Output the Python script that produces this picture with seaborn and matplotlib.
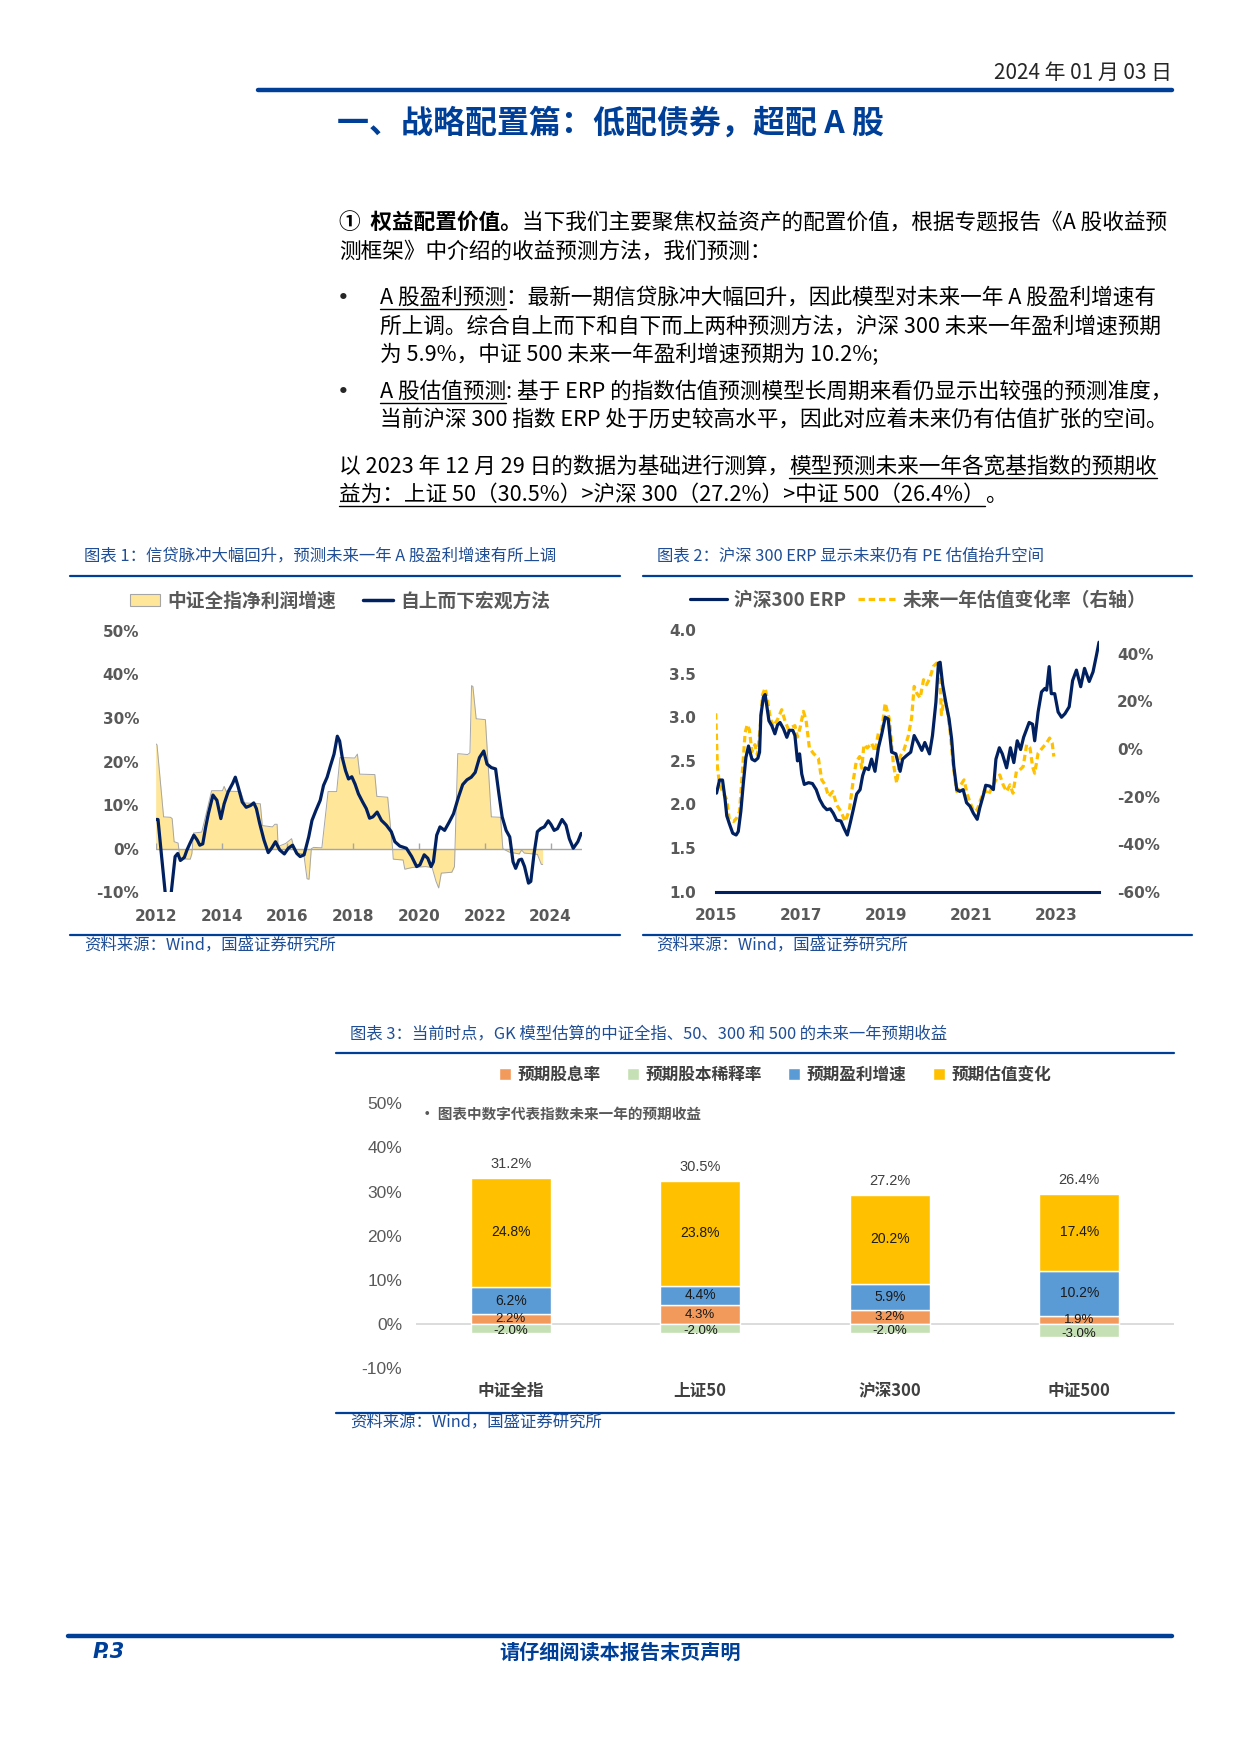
import matplotlib
matplotlib.use('Agg')
import matplotlib.pyplot as plt
import seaborn as sns
import numpy as np
from matplotlib.lines import Line2D
from matplotlib.patches import Patch
from matplotlib.ticker import FuncFormatter

# ---- chart 1: 信贷脉冲 / 盈利增速 ----
profit_years = [2012.00, 2012.04, 2012.24, 2012.45, 2012.50, 2012.56, 2012.68, 2012.74, 2013.05, 2013.10,
                2013.15, 2013.40, 2013.70, 2014.03, 2014.08, 2014.14, 2014.58, 2014.70, 2015.18, 2015.24,
                2015.55, 2015.62, 2015.69, 2015.72, 2015.95, 2016.13, 2016.20, 2016.25, 2016.50, 2016.60,
                2016.66, 2016.73, 2016.80, 2017.05, 2017.24, 2017.50, 2017.60, 2018.05, 2018.13, 2018.20,
                2018.66, 2018.72, 2019.05, 2019.20, 2019.22, 2019.52, 2019.57, 2019.80, 2020.20, 2020.40,
                2020.52, 2020.60, 2020.68, 2021.00, 2021.08, 2021.18, 2021.48, 2021.55, 2021.60, 2021.64,
                2021.74, 2022.02, 2022.20, 2022.48, 2022.55, 2022.75, 2023.05, 2023.12, 2023.20, 2023.60,
                2023.72, 2023.76]
profit_vals = [24.1, 23.8, 7.3, 7.2, 6.9, 1.6, 1.3, -2.3, -2.4, -1.1,
               3.6, 3.8, 13.3, 13.3, 14.3, 13.2, 13.1, 10.5, 10.3, 5.3,
               5.0, 5.6, 5.6, 0.5, 1.2, 2.3, 0.3, -1.0, -1.2, -6.9,
               -7.0, 0.0, 0.3, 0.2, 13.1, 13.1, 20.9, 20.8, 21.7, 17.1,
               17.0, 12.0, 11.8, 0.0, -2.4, -2.6, -4.7, -4.3, -4.1, -4.3,
               -7.5, -9.0, -5.6, -5.4, -4.1, 21.8, 21.6, 22.0, 37.4, 37.2,
               29.8, 29.6, 7.3, 7.2, 0.0, -0.8, -1.2, -0.3, -1.0, -1.3,
               -3.6, -3.6]

macro_years = [2012.00, 2012.07, 2012.16, 2012.29, 2012.38, 2012.47, 2012.59, 2012.67, 2012.75, 2012.87,
               2012.95, 2013.04, 2013.16, 2013.26, 2013.34, 2013.43, 2013.52, 2013.60, 2013.74, 2013.86,
               2013.98, 2014.08, 2014.20, 2014.34, 2014.42, 2014.51, 2014.63, 2014.75, 2014.88, 2014.98,
               2015.06, 2015.16, 2015.29, 2015.42, 2015.52, 2015.64, 2015.77, 2015.91, 2016.03, 2016.16,
               2016.29, 2016.39, 2016.51, 2016.65, 2016.75, 2016.87, 2017.00, 2017.10, 2017.21, 2017.31,
               2017.42, 2017.52, 2017.59, 2017.67, 2017.77, 2017.86, 2017.96, 2018.06, 2018.16, 2018.29,
               2018.40, 2018.50, 2018.60, 2018.73, 2018.86, 2019.01, 2019.16, 2019.27, 2019.42, 2019.62,
               2019.78, 2019.93, 2020.03, 2020.16, 2020.27, 2020.37, 2020.44, 2020.54, 2020.64, 2020.78,
               2020.92, 2021.05, 2021.20, 2021.33, 2021.46, 2021.59, 2021.71, 2021.84, 2021.97, 2022.07,
               2022.20, 2022.33, 2022.43, 2022.53, 2022.65, 2022.76, 2022.86, 2022.94, 2023.04, 2023.12,
               2023.21, 2023.33, 2023.40, 2023.50, 2023.60, 2023.70, 2023.81, 2023.93, 2024.01, 2024.11,
               2024.21, 2024.35, 2024.47, 2024.57, 2024.69, 2024.83, 2024.93]
macro_vals = [6.7, 6.7, -0.3, -10.2, -14.0, -10.2, -1.8, -1.1, -2.7, -2.0,
              -0.3, 1.2, 3.1, 2.0, 0.8, 1.1, 5.0, 8.0, 12.3, 11.1,
              6.9, 10.3, 13.0, 15.0, 16.4, 14.1, 10.7, 9.5, 9.9, 10.5,
              9.2, 5.8, 2.0, -0.9, 0.1, 1.6, -0.3, -1.2, 0.1, 0.8,
              -1.1, -1.8, -1.4, 2.7, 6.5, 8.8, 11.1, 14.5, 16.4, 19.0,
              21.7, 25.8, 24.7, 20.9, 17.9, 16.0, 16.5, 14.8, 12.6, 10.7,
              9.2, 7.0, 7.3, 8.4, 6.5, 5.4, 3.9, 1.6, 0.6, 0.1,
              -1.8, -4.1, -3.7, -1.4, -2.2, -4.1, -3.0, 3.1, 5.0, 4.2,
              6.1, 8.0, 11.8, 14.7, 15.8, 16.4, 17.5, 20.9, 22.4, 19.4,
              18.6, 18.3, 12.6, 7.3, 4.2, 2.7, -3.0, -4.5, -2.6, -2.4,
              -4.1, -7.9, -7.5, -1.1, 3.9, 4.6, 5.0, 6.4, 5.6, 4.2,
              4.6, 6.7, 5.4, 2.3, 0.1, 1.6, 3.5]

# ---- chart 2: 沪深300 ERP ----
erp_years = [2015.02, 2015.09, 2015.16, 2015.22, 2015.26, 2015.32, 2015.40, 2015.48, 2015.53, 2015.59,
             2015.65, 2015.71, 2015.77, 2015.85, 2015.92, 2015.99, 2016.03, 2016.06, 2016.12, 2016.16,
             2016.20, 2016.25, 2016.32, 2016.39, 2016.45, 2016.51, 2016.59, 2016.67, 2016.73, 2016.81,
             2016.86, 2016.92, 2016.97, 2017.02, 2017.08, 2017.18, 2017.27, 2017.36, 2017.44, 2017.53,
             2017.61, 2017.69, 2017.76, 2017.84, 2017.94, 2018.01, 2018.09, 2018.16, 2018.23, 2018.31,
             2018.39, 2018.45, 2018.51, 2018.59, 2018.66, 2018.74, 2018.82, 2018.90, 2018.98, 2019.05,
             2019.13, 2019.23, 2019.33, 2019.39, 2019.48, 2019.58, 2019.66, 2019.76, 2019.84, 2019.91,
             2020.02, 2020.09, 2020.17, 2020.23, 2020.27, 2020.33, 2020.41, 2020.48, 2020.54, 2020.59,
             2020.66, 2020.73, 2020.81, 2020.89, 2020.97, 2021.05, 2021.14, 2021.20, 2021.28, 2021.34,
             2021.44, 2021.52, 2021.58, 2021.66, 2021.73, 2021.83, 2021.92, 2022.00, 2022.08, 2022.16,
             2022.23, 2022.36, 2022.44, 2022.49, 2022.57, 2022.65, 2022.73, 2022.77, 2022.83, 2022.88,
             2022.96, 2023.04, 2023.12, 2023.20, 2023.30, 2023.38, 2023.47, 2023.57, 2023.66, 2023.77,
             2023.86, 2023.94, 2024.00]
erp_vals = [2.13, 2.28, 2.28, 2.06, 1.87, 1.78, 1.67, 1.65, 1.69, 1.92,
            2.25, 2.54, 2.67, 2.52, 2.50, 2.53, 2.60, 3.02, 3.23, 3.26,
            3.13, 2.96, 2.90, 2.81, 2.91, 2.94, 2.87, 2.77, 2.85, 2.85,
            2.79, 2.50, 2.58, 2.35, 2.23, 2.25, 2.24, 2.17, 2.06, 1.98,
            1.94, 1.95, 1.90, 1.82, 1.81, 1.73, 1.65, 1.79, 1.94, 2.12,
            2.17, 2.33, 2.42, 2.40, 2.52, 2.38, 2.65, 2.81, 3.00, 2.98,
            2.60, 2.58, 2.38, 2.52, 2.56, 2.60, 2.79, 2.70, 2.62, 2.71,
            2.58, 2.79, 3.17, 3.62, 3.63, 3.37, 3.15, 2.98, 2.75, 2.44,
            2.17, 2.15, 2.17, 2.02, 1.98, 1.90, 1.83, 1.96, 2.10, 2.22,
            2.21, 2.17, 2.52, 2.65, 2.58, 2.42, 2.65, 2.48, 2.73, 2.63,
            2.77, 2.94, 2.92, 2.73, 3.06, 3.29, 3.33, 3.31, 3.58, 3.27,
            3.27, 3.06, 3.00, 3.04, 3.12, 3.42, 3.54, 3.35, 3.56, 3.41,
            3.52, 3.71, 3.86]

pe_years = [2015.00, 2015.04, 2015.09, 2015.18, 2015.26, 2015.32, 2015.42, 2015.49, 2015.56, 2015.63,
            2015.69, 2015.74, 2015.79, 2015.85, 2015.92, 2015.98, 2016.04, 2016.10, 2016.16, 2016.21,
            2016.28, 2016.35, 2016.45, 2016.55, 2016.63, 2016.71, 2016.79, 2016.86, 2016.92, 2016.98,
            2017.06, 2017.12, 2017.20, 2017.29, 2017.41, 2017.49, 2017.57, 2017.65, 2017.75, 2017.84,
            2017.94, 2018.04, 2018.14, 2018.22, 2018.30, 2018.38, 2018.43, 2018.48, 2018.56, 2018.66,
            2018.74, 2018.82, 2018.90, 2018.98, 2019.08, 2019.17, 2019.25, 2019.33, 2019.42, 2019.52,
            2019.60, 2019.66, 2019.72, 2019.80, 2019.88, 2019.95, 2020.03, 2020.11, 2020.19, 2020.25,
            2020.30, 2020.36, 2020.42, 2020.50, 2020.58, 2020.66, 2020.73, 2020.83, 2020.91, 2020.98,
            2021.06, 2021.14, 2021.22, 2021.32, 2021.40, 2021.50, 2021.58, 2021.67, 2021.75, 2021.83,
            2021.91, 2021.98, 2022.06, 2022.14, 2022.22, 2022.30, 2022.38, 2022.44, 2022.49, 2022.57,
            2022.67, 2022.77, 2022.84, 2022.90, 2022.94]
pe_vals = [15.0, -7.4, -15.1, -18.6, -21.4, -29.8, -30.5, -29.1, -26.3, -8.8,
           6.7, 10.2, 8.1, -1.1, 1.8, -2.5, 8.1, 22.8, 25.6, 21.4,
           13.0, 9.5, 12.3, 16.5, 11.6, 8.1, 9.2, 9.8, 5.0, 8.8,
           15.8, 12.3, 0.4, -1.8, -3.9, -13.0, -15.1, -20.0, -17.9, -23.5,
           -26.3, -30.5, -25.6, -14.4, -5.3, -3.2, -8.1, 1.8, 0.4, 2.5,
           -1.1, 6.7, 8.1, 19.3, 12.3, -6.0, -14.4, -3.2, -0.4, 5.3,
           13.0, 26.3, 23.5, 21.4, 29.1, 27.0, 29.8, 34.7, 36.1, 34.7,
           14.4, 20.7, 18.6, 8.1, -7.4, -17.9, -15.8, -13.0, -19.3, -22.8,
           -26.3, -25.6, -21.4, -17.2, -19.3, -15.8, -13.0, -10.9, -15.1, -17.9,
           -15.1, -18.6, -9.5, -8.8, -7.4, 1.8, 0.4, -7.4, -10.2, -1.8,
           0.4, 2.5, 4.6, 2.5, -3.2]

# ---- chart 3: GK 模型预期收益 ----
categories = ['中证全指', '上证50', '沪深300', '中证500']
dividend = [2.2, 4.3, 3.2, 1.9]
dilution = [-2.0, -2.0, -2.0, -3.0]
earnings = [6.2, 4.4, 5.9, 10.2]
valuation = [24.8, 23.8, 20.2, 17.4]
totals = [31.2, 30.5, 27.2, 26.4]

BLUE = '#003F98'
TITLE_BLUE = '#1F4E96'
NAVY = '#002060'
GRAY = '#595959'

sns.set_style('white')
plt.rcParams['font.family'] = ['Noto Sans CJK SC', 'DejaVu Sans']
plt.rcParams['axes.unicode_minus'] = False

W, H = 1240, 1754
fig = plt.figure(figsize=(12.4, 17.54), dpi=100)


def fy(y):
    return 1 - y / H


def rect(x0, y0, x1, y1):
    return [x0 / W, 1 - y1 / H, (x1 - x0) / W, (y1 - y0) / H]


def rule(x0, x1, y, lw):
    fig.add_artist(Line2D([x0 / W, x1 / W], [fy(y), fy(y)], color=BLUE, lw=lw))


pct = FuncFormatter(lambda v, _: f'{v:.0f}%')

# header / footer
fig.text(1172 / W, fy(73), '2024 年 01 月 03 日', ha='right', va='center', fontsize=15)
rule(258, 1172, 90, 3.2)
fig.text(337 / W, fy(124), '一、战略配置篇：低配债券，超配 A 股', ha='left', va='center',
         fontsize=23, fontweight='bold', color=BLUE)
rule(68, 1172, 1636, 3.2)
fig.text(93 / W, fy(1652), 'P.3', ha='left', va='center', fontsize=15, fontweight='bold',
         fontstyle='italic', color=BLUE, family=['DejaVu Sans'])
fig.text(620 / W, fy(1652), '请仔细阅读本报告末页声明', ha='center', va='center', fontsize=14.5,
         fontweight='bold', color=BLUE)

# body text
renderer = fig.canvas.get_renderer()
BODY = 15.6
body = [
    (339, 223, [('①  权益配置价值。', True, False),
                ('当下我们主要聚焦权益资产的配置价值，根据专题报告《A 股收益预', False, False)]),
    (339, 252, [('测框架》中介绍的收益预测方法，我们预测：', False, False)]),
    (380, 298, [('A 股盈利预测', False, True),
                ('：最新一期信贷脉冲大幅回升，因此模型对未来一年 A 股盈利增速有', False, False)]),
    (380, 327, [('所上调。综合自上而下和自下而上两种预测方法，沪深 300 未来一年盈利增速预期', False, False)]),
    (380, 355, [('为 5.9%，中证 500 未来一年盈利增速预期为 10.2%;', False, False)]),
    (380, 392, [('A 股估值预测', False, True),
                (': 基于 ERP 的指数估值预测模型长周期来看仍显示出较强的预测准度，', False, False)]),
    (380, 420, [('当前沪深 300 指数 ERP 处于历史较高水平，因此对应着未来仍有估值扩张的空间。', False, False)]),
    (339, 467, [('以 2023 年 12 月 29 日的数据为基础进行测算，', False, False),
                ('模型预测未来一年各宽基指数的预期收', False, True)]),
    (339, 495, [('益为：上证 50（30.5%）>沪深 300（27.2%）>中证 500（26.4%）', False, True),
                ('。', False, False)]),
]
for x, y, runs in body:
    for txt, bold, ul in runs:
        t = fig.text(x / W, fy(y), txt, ha='left', va='center', fontsize=BODY,
                     fontweight='bold' if bold else 'normal', color='black')
        w = t.get_window_extent(renderer=renderer).width
        if ul:
            fig.add_artist(Line2D([x / W, (x + w) / W], [fy(y + 11), fy(y + 11)], color='black', lw=1.0))
        x += w
for y in (298, 392):
    fig.text(337 / W, fy(y), '•', ha='left', va='center', fontsize=BODY, family=['DejaVu Sans'])

# chart titles, rules and sources
TSZ = 11.8
fig.text(84 / W, fy(556), '图表 1：信贷脉冲大幅回升，预测未来一年 A 股盈利增速有所上调', va='center',
         fontsize=TSZ, color=TITLE_BLUE, fontstyle='italic')
fig.text(657 / W, fy(556), '图表 2：沪深 300 ERP 显示未来仍有 PE 估值抬升空间', va='center',
         fontsize=TSZ, color=TITLE_BLUE, fontstyle='italic')
fig.text(350 / W, fy(1034), '图表 3：当前时点，GK 模型估算的中证全指、50、300 和 500 的未来一年预期收益',
         va='center', fontsize=TSZ, color=TITLE_BLUE, fontstyle='italic')
rule(70, 620, 576, 1.6)
rule(70, 620, 935, 1.6)
rule(643, 1192, 576, 1.6)
rule(643, 1192, 935, 1.6)
rule(336, 1174, 1053, 1.6)
rule(336, 1174, 1413, 1.6)
for sx, sy in ((84, 945), (656, 945), (350, 1422)):
    fig.text(sx / W, fy(sy), '资料来源：Wind，国盛证券研究所', va='center', fontsize=TSZ,
             color=TITLE_BLUE, fontstyle='italic')

# ---- chart 1 ----
ax1 = fig.add_axes(rect(155.7, 630.7, 581.8, 892.3))
ax1.fill_between(profit_years, profit_vals, 0, color='#FFE699', lw=0, zorder=1)
ax1.plot(profit_years, profit_vals, color='#A6A6A6', lw=0.7, zorder=2)
ax1.axhline(0, color='#A6A6A6', lw=1.0, zorder=2)
sns.lineplot(x=macro_years, y=macro_vals, color=NAVY, lw=2.3, ax=ax1, sort=False,
             estimator=None, legend=False, zorder=3)
ax1.set_xlim(2012, 2024.95)
ax1.set_ylim(-10, 50)
ax1.set_xticks(range(2012, 2025, 2))
ax1.set_yticks(range(-10, 51, 10))
ax1.vlines(ax1.get_xticks(), 0, 1.3, color='#A6A6A6', lw=1.0, zorder=2)
ax1.yaxis.set_major_formatter(pct)
for s in ax1.spines.values():
    s.set_visible(False)
ax1.tick_params(axis='y', length=0, pad=12, labelcolor=GRAY)
ax1.tick_params(axis='x', length=0, pad=12, labelcolor=GRAY)
for lab in ax1.get_xticklabels() + ax1.get_yticklabels():
    lab.set_fontfamily('DejaVu Sans')
    lab.set_fontweight('bold')
    lab.set_fontsize(11)
ax1.set_xlabel('')
ax1.set_ylabel('')
fig.legend(handles=[Patch(facecolor='#FFE699', edgecolor='#A6A6A6', lw=0.8),
                    Line2D([], [], color=NAVY, lw=2.5)],
           labels=['中证全指净利润增速', '自上而下宏观方法'], loc='center',
           bbox_to_anchor=(340 / W, fy(601)), ncol=2, frameon=False,
           handlelength=1.6, handleheight=0.6, handletextpad=0.4, columnspacing=1.4,
           labelcolor=GRAY, prop={'weight': 'bold', 'size': 13.5})

# ---- chart 2 ----
ax2 = fig.add_axes(rect(715.7, 630.0, 1099.0, 891.7))
sns.lineplot(x=erp_years, y=erp_vals, color=NAVY, lw=2.3, ax=ax2, sort=False,
             estimator=None, legend=False, zorder=3)
ax2.set_xlim(2015, 2024.0)
ax2.set_ylim(1.0, 4.0)
ax2.set_xticks(range(2015, 2024, 2))
ax2.set_yticks(np.arange(1.0, 4.01, 0.5))
ax2.yaxis.set_major_formatter(FuncFormatter(lambda v, _: f'{v:.1f}'))
ax2r = ax2.twinx()
sns.lineplot(x=pe_years, y=pe_vals, color='#FFC000', lw=2.3, ax=ax2r, sort=False,
             estimator=None, legend=False, linestyle=(0, (2.0, 1.2)), zorder=2)
ax2r.set_ylim(-60, 50)
ax2r.set_yticks(range(-60, 41, 20))
ax2r.yaxis.set_major_formatter(pct)
ax2.set_zorder(ax2r.get_zorder() + 1)
ax2.patch.set_visible(False)
for a in (ax2, ax2r):
    for s in a.spines.values():
        s.set_visible(False)
    a.set_xlabel('')
    a.set_ylabel('')
ax2.spines['bottom'].set_visible(True)
ax2.spines['bottom'].set_color(NAVY)
ax2.spines['bottom'].set_linewidth(2.2)
ax2.tick_params(axis='x', direction='in', length=5, width=1.5, color=NAVY, pad=12, labelcolor=GRAY)
ax2.tick_params(axis='y', length=0, pad=14, labelcolor=GRAY)
ax2r.tick_params(axis='y', length=0, pad=13, labelcolor=GRAY)
for lab in ax2.get_xticklabels() + ax2.get_yticklabels() + ax2r.get_yticklabels():
    lab.set_fontfamily('DejaVu Sans')
    lab.set_fontweight('bold')
    lab.set_fontsize(11)
fig.legend(handles=[Line2D([], [], color=NAVY, lw=2.3),
                    Line2D([], [], color='#FFC000', lw=2.3, linestyle=(0, (2.0, 1.2)))],
           labels=['沪深300 ERP', '未来一年估值变化率（右轴）'], loc='center',
           bbox_to_anchor=(918 / W, fy(600)), ncol=2, frameon=False,
           handlelength=2.0, handletextpad=0.4, columnspacing=0.6,
           labelcolor=GRAY, prop={'weight': 'bold', 'size': 13.5})

# ---- chart 3 ----
ax3 = fig.add_axes(rect(416, 1103.3, 1174, 1368.3))
xpos = np.arange(len(categories))
bw = 0.42
b1 = ax3.bar(xpos, dividend, bw, color='#F29A5B', zorder=2)
b2 = ax3.bar(xpos, dilution, bw, color='#C5E0B4', zorder=2)
b3 = ax3.bar(xpos, earnings, bw, bottom=dividend, color='#5B9BD5', zorder=2)
b4 = ax3.bar(xpos, valuation, bw, bottom=np.add(dividend, earnings), color='#FFC000', zorder=2)
ax3.axhline(0, color='#D9D9D9', lw=1.3, zorder=1)
narrow = ['Liberation Sans Narrow', 'Liberation Sans']
ax3.bar_label(b1, labels=[f'{v:.1f}%' for v in dividend], label_type='center', padding=0,
              fontsize=9.5, color='#1a1a1a', family=narrow)
ax3.bar_label(b2, labels=[f'{v:.1f}%' for v in dilution], label_type='center', padding=2,
              fontsize=9.5, color='#1a1a1a', family=narrow)
for cont, vals in ((b3, earnings), (b4, valuation)):
    ax3.bar_label(cont, labels=[f'{v:.1f}%' for v in vals], label_type='center',
                  fontsize=10, color='#1a1a1a', family=narrow)
ax3.bar_label(b4, labels=[f'{t:.1f}%' for t in totals], padding=5, fontsize=10.5,
              color='#404040', family=narrow)
ax3.set_xlim(-0.5, len(categories) - 0.5)
ax3.set_ylim(-10, 50)
ax3.set_yticks(range(-10, 51, 10))
ax3.yaxis.set_major_formatter(pct)
ax3.set_xticks(xpos)
ax3.set_xticklabels(categories)
for s in ax3.spines.values():
    s.set_visible(False)
ax3.tick_params(axis='y', length=0, pad=10, labelcolor=GRAY)
ax3.tick_params(axis='x', length=0, pad=10, labelcolor='#404040')
for lab in ax3.get_yticklabels():
    lab.set_fontfamily(narrow)
    lab.set_fontsize(12.5)
for lab in ax3.get_xticklabels():
    lab.set_fontweight('bold')
    lab.set_fontsize(12)
fig.text(420 / W, fy(1114), '· 图表中数字代表指数未来一年的预期收益', va='center', fontsize=10.5,
         fontweight='bold', color=GRAY)
fig.legend(handles=[b1, b2, b3, b4], labels=['预期股息率', '预期股本稀释率', '预期盈利增速', '预期估值变化'],
           loc='center', bbox_to_anchor=(775 / W, fy(1075)), ncol=4, frameon=False,
           handlelength=0.7, handleheight=0.7, handletextpad=0.4, columnspacing=1.6,
           labelcolor='#404040', prop={'weight': 'bold', 'size': 12})

fig.savefig('out.png', dpi=100)
